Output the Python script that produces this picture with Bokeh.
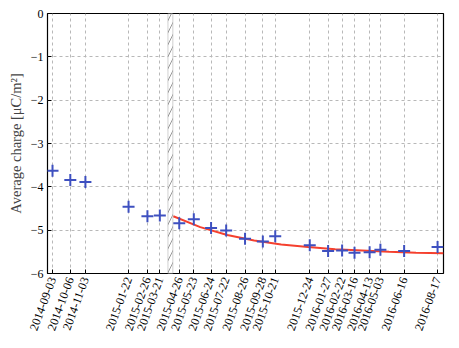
import pandas as pd
from bokeh.plotting import figure
from bokeh.models import FixedTicker, DatetimeTickFormatter, Range1d, BoxAnnotation
from bokeh.embed import file_html
from bokeh.resources import INLINE

dates = ["2014-09-03", "2014-10-06", "2014-11-03", "2015-01-22", "2015-02-26",
         "2015-03-21", "2015-04-26", "2015-05-23", "2015-06-24", "2015-07-22",
         "2015-08-26", "2015-09-28", "2015-10-21", "2015-12-24", "2016-01-27",
         "2016-02-22", "2016-03-16", "2016-04-13", "2016-05-03", "2016-06-16",
         "2016-08-17"]
charge = [-3.63, -3.84, -3.89, -4.46, -4.68, -4.66, -4.84, -4.75, -4.95, -5.01,
          -5.20, -5.26, -5.14, -5.35, -5.48, -5.47, -5.52, -5.51, -5.45, -5.48,
          -5.39]

fit_dates = ["2015-04-15", "2015-06-04", "2015-07-24", "2015-09-12", "2015-11-01",
             "2015-12-21", "2016-02-09", "2016-03-30", "2016-05-19", "2016-07-08",
             "2016-08-28"]
fit_charge = [-4.68, -4.93, -5.11, -5.24, -5.33, -5.39, -5.44, -5.47, -5.50, -5.52, -5.53]

band_start, band_end = "2015-04-05", "2015-04-14"
y_ticks = [0, -1, -2, -3, -4, -5, -6]

x = pd.to_datetime(dates)
xf = pd.to_datetime(fit_dates)

def ms(t):
    return pd.Timestamp(t).value / 1e6

x0 = pd.Timestamp(dates[0]) - pd.Timedelta(days=9.3)
x1 = pd.Timestamp(dates[-1]) + pd.Timedelta(days=11)

p = figure(x_axis_type="datetime", output_backend="svg", toolbar_location=None,
           frame_width=396, frame_height=260,
           min_border_left=47, min_border_right=16, min_border_top=13, min_border_bottom=75,
           x_range=Range1d(x0, x1), y_range=Range1d(-6, 0))

p.outline_line_color = "black"
p.outline_line_width = 1.2
p.background_fill_color = "white"
p.border_fill_color = "white"

band = BoxAnnotation(left=ms(band_start), right=ms(band_end),
                     fill_color="white", fill_alpha=1.0,
                     line_color="#999999", line_width=1.5,
                     hatch_pattern="/", hatch_color="#999999", hatch_scale=12,
                     hatch_weight=1.0)
p.add_layout(band)

p.line(xf, fit_charge, line_color="#f5402e", line_width=2)
p.scatter(x, charge, marker="cross", size=12, line_width=2, color="#3e50c0")

p.xaxis.ticker = FixedTicker(ticks=[ms(d) for d in dates])
fmt = "%Y-%m-%d"
p.xaxis.formatter = DatetimeTickFormatter(milliseconds=fmt, seconds=fmt, minsec=fmt,
                                          minutes=fmt, hourmin=fmt, hours=fmt, days=fmt,
                                          months=fmt, years=fmt)
p.xaxis.major_label_orientation = 1.22
p.yaxis.ticker = FixedTicker(ticks=y_ticks)
p.yaxis.major_label_overrides = {v: ("0" if v == 0 else "\u2212" + str(-v)) for v in y_ticks}
p.yaxis.axis_label = "Average charge [\u03bcC/m\u00b2]"

for ax in (p.xaxis, p.yaxis):
    ax.major_label_text_font = "Liberation Serif"
    ax.major_label_text_font_size = "12px"
    ax.major_label_text_color = "black"
    ax.axis_label_text_font = "Liberation Serif"
    ax.axis_label_text_font_size = "14.5px"
    ax.axis_label_text_font_style = "normal"
    ax.major_tick_in = 4
    ax.major_tick_out = 0
    ax.minor_tick_line_color = None
    ax.axis_line_color = None
    ax.major_tick_line_color = "black"
    ax.major_label_standoff = 4
p.yaxis.axis_label_standoff = 4

p.grid.grid_line_color = "#b8b8b8"
p.grid.grid_line_dash = "3 3"
p.grid.grid_line_width = 1

open("out.html", "w").write(file_html(p, INLINE))
